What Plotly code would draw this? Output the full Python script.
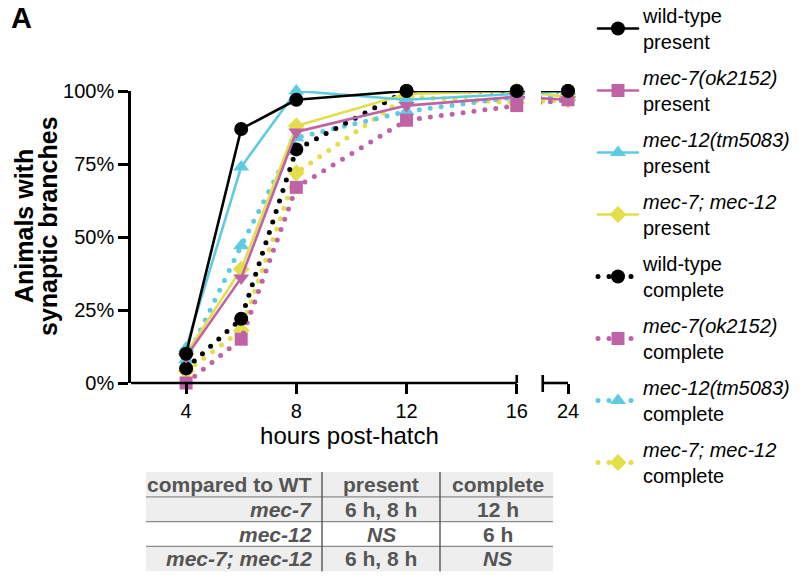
import plotly.graph_objects as go

# ---- data -------------------------------------------------------------
hours = [4, 6, 8, 12, 16, 24]

wt_present = [10, 87, 97, 100, 100, 100]
mec7_present = [9, 36, 86, 95, 98, 97]
mec12_present = [12, 74, 100, 97, 99, 100]
double_present = [10, 39, 88, 99, 100, 98]

wt_complete = [5, 22, 80, 100, 100, 100]
mec7_complete = [0, 15, 67, 90, 95, 97]
mec12_complete = [8, 47, 84, 93, 98, 98]
double_complete = [4, 18, 72, 98, 96, 97]

x_ticks = [4, 8, 12, 16, 24]
y_ticks = [0, 25, 50, 75, 100]

table_header = ["compared to WT", "present", "complete"]
table_rows = [
    ["<i>mec-7</i>", "6 h, 8 h", "12 h"],
    ["<i>mec-12</i>", "<i>NS</i>", "6 h"],
    ["<i>mec-7; mec-12</i>", "6 h, 8 h", "<i>NS</i>"],
]

# ---- figure geometry ----------------------------------------------------
W, H = 804, 581
L, R, T, B = 131, 236, 91, 198
PW, PH = W - L - R, H - T - B

BREAK_LO = 16          # last hour before the axis break
BREAK_SHIFT = 6.14     # hours removed by the break (16 -> 24 squeezed)
X_MIN, X_MAX = 2.0, 24 - BREAK_SHIFT


def axis_pos(h):
    """Position on the broken x axis."""
    return h if h <= BREAK_LO else h - BREAK_SHIFT


def px_x(px):
    return (px - L) / PW


def px_y(py):
    return (H - B - py) / PH


def vx(v):
    return (v - X_MIN) / (X_MAX - X_MIN)


xs = [axis_pos(h) for h in hours]

BLACK = "#000000"
MAGENTA = "#c062a6"
CYAN = "#5fcbe0"
YELLOW = "#e3de4a"
FONT = "Liberation Sans, Arial, Helvetica, sans-serif"
DOTS = "0px,11px"

series = [
    # name, values, colour, plot symbol, legend symbol, dotted
    ("wild-type<br>present", wt_present, BLACK, "circle", "circle", False),
    ("<i>mec-7(ok2152)</i><br>present", mec7_present, MAGENTA, "triangle-down", "square", False),
    ("<i>mec-12(tm5083)</i><br>present", mec12_present, CYAN, "triangle-up", "triangle-up", False),
    ("<i>mec-7; mec-12</i><br>present", double_present, YELLOW, "diamond", "diamond", False),
    ("wild-type<br>complete", wt_complete, BLACK, "circle", "circle", True),
    ("<i>mec-7(ok2152)</i><br>complete", mec7_complete, MAGENTA, "square", "square", True),
    ("<i>mec-12(tm5083)</i><br>complete", mec12_complete, CYAN, "triangle-up", "triangle-up", True),
    ("<i>mec-7; mec-12</i><br>complete", double_complete, YELLOW, "diamond", "diamond", True),
]

SIZES = {"circle": 14, "square": 13, "triangle-up": 14, "triangle-down": 14, "diamond": 13}

fig = go.Figure()

# plotted curves: dotted "complete" first, solid "present" on top
draw_order = [7, 6, 5, 4, 3, 2, 1, 0]
for i in draw_order:
    name, vals, col, sym, _, dotted = series[i]
    fig.add_trace(go.Scatter(
        x=xs, y=vals, mode="lines+markers", showlegend=False,
        line=dict(color=col, width=5 if dotted else 2.6, dash=DOTS if dotted else "solid"),
        marker=dict(symbol=sym, size=SIZES[sym], color=col, line=dict(width=0)),
        cliponaxis=False, hoverinfo="skip",
    ))

# legend entries
for k, (name, vals, col, _, lsym, dotted) in enumerate(series):
    fig.add_trace(go.Scatter(
        x=[None], y=[None], mode="lines+markers", name=name,
        legendgroup=f"g{k}",
        line=dict(color=col, width=5 if dotted else 2.6, dash=DOTS if dotted else "solid"),
        marker=dict(symbol=lsym, size=SIZES[lsym], color=col, line=dict(width=0)),
    ))

shapes = []
# white gap where the curves cross the axis break
shapes.append(dict(type="rect", xref="paper", yref="paper",
                   x0=px_x(525), x1=px_x(541), y0=0.3, y1=1.1,
                   fillcolor="white", line=dict(width=0), layer="above"))
# broken x axis line with caps
AX = dict(color="black", width=2.6)
cap_up, cap_dn = 8 / PH, 9 / PH
brk2 = vx(BREAK_LO) + (543 - 517) / PW
shapes += [
    dict(type="line", xref="paper", yref="paper", x0=0, x1=vx(BREAK_LO), y0=0, y1=0, line=AX, layer="above"),
    dict(type="line", xref="paper", yref="paper", x0=brk2, x1=1, y0=0, y1=0, line=AX, layer="above"),
    dict(type="line", xref="paper", yref="paper", x0=vx(BREAK_LO), x1=vx(BREAK_LO), y0=0, y1=cap_up, line=AX, layer="above"),
    dict(type="line", xref="paper", yref="paper", x0=brk2, x1=brk2, y0=-cap_dn, y1=cap_up, line=AX, layer="above"),
]

annotations = []
# panel letter
annotations.append(dict(text="<b>A</b>", xref="paper", yref="paper", x=px_x(9), y=px_y(0),
                        xanchor="left", yanchor="top", showarrow=False,
                        font=dict(size=29, color="black", family=FONT)))
# y axis title (two stacked rotated lines)
for txt, cx in (("<b>Animals with</b>", 24), ("<b>synaptic branches</b>", 48)):
    annotations.append(dict(text=txt, xref="paper", yref="paper", x=px_x(cx), y=px_y(226),
                            xanchor="center", yanchor="middle", textangle=-90, showarrow=False,
                            font=dict(size=25, color="black", family=FONT)))

# comparison table below the plot
TBL_X0, TBL_X1 = 146, 553
COL_SPLIT = [322, 440]
ROW_TOP, ROW_H = 472, 24.8
GREY_TXT = "#555555"
n_rows = 1 + len(table_rows)
for r in range(n_rows):
    y0 = ROW_TOP + r * ROW_H
    fill = "#ffffff" if r == 2 else "#eeeeee"
    shapes.append(dict(type="rect", xref="paper", yref="paper",
                       x0=px_x(TBL_X0), x1=px_x(TBL_X1), y0=px_y(y0 + ROW_H), y1=px_y(y0),
                       fillcolor=fill, line=dict(width=0), layer="below"))
    if r > 0:
        shapes.append(dict(type="line", xref="paper", yref="paper",
                           x0=px_x(TBL_X0), x1=px_x(TBL_X1), y0=px_y(y0), y1=px_y(y0),
                           line=dict(color="#8a8a8a", width=1.2)))
for cx in COL_SPLIT:
    shapes.append(dict(type="line", xref="paper", yref="paper",
                       x0=px_x(cx), x1=px_x(cx), y0=px_y(ROW_TOP + n_rows * ROW_H), y1=px_y(ROW_TOP),
                       line=dict(color="#555555", width=1.4)))

col_anchor = [("right", 314), ("center", (COL_SPLIT[0] + COL_SPLIT[1]) / 2),
              ("center", (COL_SPLIT[1] + TBL_X1) / 2 + 1)]
for r, row in enumerate([table_header] + table_rows):
    cy = ROW_TOP + (r + 0.5) * ROW_H
    for c, cell in enumerate(row):
        anchor, cx = col_anchor[c]
        annotations.append(dict(text=f"<b>{cell}</b>", xref="paper", yref="paper",
                                x=px_x(cx), y=px_y(cy), xanchor=anchor, yanchor="middle",
                                showarrow=False,
                                font=dict(size=21, color=GREY_TXT, family=FONT)))

fig.update_layout(
    width=W, height=H,
    margin=dict(l=L, r=R, t=T, b=B, autoexpand=False),
    paper_bgcolor="white", plot_bgcolor="white",
    font=dict(family=FONT, color="black", size=20),
    xaxis=dict(range=[X_MIN, X_MAX], tickvals=[axis_pos(h) for h in x_ticks],
               ticktext=[str(h) for h in x_ticks], ticks="outside", ticklen=10,
               tickwidth=2.6, tickcolor="black", showline=False, showgrid=False,
               zeroline=False, tickfont=dict(size=20),
               title=dict(text="hours post-hatch", font=dict(size=24), standoff=5)),
    yaxis=dict(range=[0, 100], tickvals=y_ticks, ticktext=[f"{v}%" for v in y_ticks],
               ticks="outside", ticklen=10, tickwidth=2.6, tickcolor="black",
               showline=True, linecolor="black", linewidth=2.6, showgrid=False,
               zeroline=False, tickfont=dict(size=20)),
    legend=dict(x=px_x(593), y=px_y(-4), xanchor="left", yanchor="top",
                font=dict(size=20, family=FONT), tracegroupgap=7,
                bgcolor="rgba(0,0,0,0)", itemwidth=40, maxheight=700),
    shapes=shapes,
    annotations=annotations,
    showlegend=True,
)

round_caps = ("var s=document.createElement('style');"
              "s.textContent='.js-line{stroke-linecap:round;stroke-linejoin:round}';"
              "document.head.appendChild(s);")
fig.write_html("out.html", post_script=round_caps)
